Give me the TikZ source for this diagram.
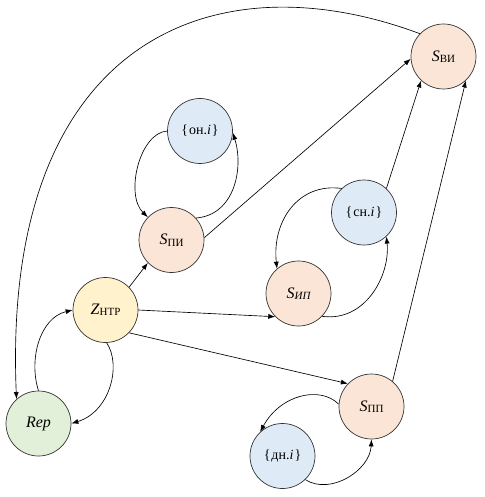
\documentclass[tikz,border=0pt]{standalone}
\usepackage{fontspec}
\setmainfont{Liberation Serif}
\usepackage{tikz}
\usetikzlibrary{arrows.meta}
\definecolor{peach}{HTML}{FBE5D6}
\definecolor{paleblue}{HTML}{DEEBF7}
\definecolor{paleyellow}{HTML}{FFF2CC}
\definecolor{palegreen}{HTML}{E2F0D9}
\newcommand{\subidx}[1]{\raisebox{-0.2ex}{\fontsize{11}{11}\selectfont #1}}

\begin{document}
\begin{tikzpicture}[
    x=1pt,y=-1pt,
    state/.style={circle,draw=black!80,line width=0.7pt,minimum size=65pt,inner sep=0pt,font=\fontsize{16}{18}\selectfont},
    sstate/.style={state,fill=peach},
    setnode/.style={state,fill=paleblue,font=\fontsize{14}{16}\selectfont},
    ztrans/.style={state,fill=paleyellow},
    repnode/.style={state,fill=palegreen},
    arrow/.style={-{Latex[length=7pt,width=5pt]},line width=0.65pt}
  ]
    \useasboundingbox (0,0) rectangle (484,497);

    \node[sstate] (SVI) at (443.5,56.5) {\textit{S}\subidx{ВИ}};
    \node[setnode] (ON) at (200,131) {\{\kern1pt он.\textit{i}\kern1pt\}};
    \node[sstate] (SPI) at (171.5,240) {\textit{S}\subidx{ПИ}};
    \node[setnode] (SN) at (364,212.5) {\{\kern1pt сн.\textit{i}\kern1pt\}};
    \node[sstate] (SIP) at (298.5,293.5) {\textit{S}\subidx{\itshape ИП}};
    \node[ztrans] (Z) at (105.5,310) {\textit{Z}\subidx{НТР}};
    \node[repnode] (Rep) at (38.5,423.5) {\textit{Rep}};
    \node[sstate] (SPP) at (371.5,406.5) {\textit{S}\subidx{ПП}};
    \node[setnode] (DN) at (282.5,456) {\{\kern1pt дн.\textit{i}\kern1pt\}};

    % straight transitions
    \draw[arrow] (Z.44) -- (SPI.224);
    \draw[arrow] (Z.0) -- (SIP.225);
    \draw[arrow] (Z.-44) -- (SPP.136);
    \draw[arrow] (SPI.4) -- (SVI.184);
    \draw[arrow] (SN.47) -- (SVI.227);
    \draw[arrow] (SPP.50) -- (SVI.-47);

    % loops between states and sets
    \draw[arrow] (SPI.42) .. controls +(39,-3) and +(11,35) .. (ON.-3);
    \draw[arrow] (ON.180) .. controls +(-28,2) and +(-23,-22) .. (SPI.136);
    \draw[arrow] (SN.133) .. controls +(-42,-6) and +(-5,-49) .. (SIP.131);
    \draw[arrow] (SIP.-44) .. controls +(43,6) and +(4,39) .. (SN.-47);
    \draw[arrow] (SPP.176) .. controls +(-19,-19) and +(20,-37) .. (DN.133);
    \draw[arrow] (DN.-46) .. controls +(25,16) and +(-1.5,31) .. (SPP.-90);

    % Z <-> Rep
    \draw[arrow] (Z.-88) .. controls +(15,22) and +(39,-12) .. (Rep.0);
    \draw[arrow] (Rep.90) .. controls +(-10,-31) and +(-33,8) .. (Z.180);

    % return to Rep
    \draw[arrow] (SVI.136) .. controls +(-209,-78) and +(-15,-357) .. (Rep.132);
  \end{tikzpicture}
\end{document}
